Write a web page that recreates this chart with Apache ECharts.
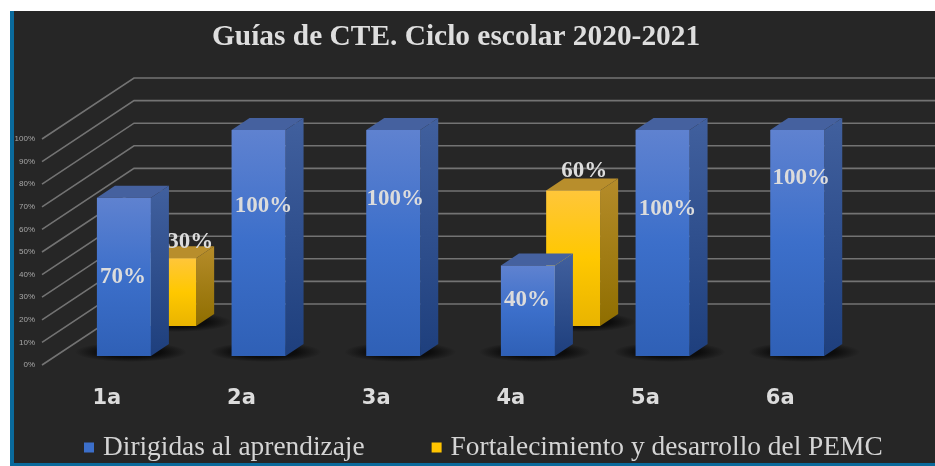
<!DOCTYPE html>
<html>
<head>
<meta charset="utf-8">
<style>html,body{margin:0;padding:0;background:#fff}#c{width:935px;height:466px}</style>
<script src="https://cdn.jsdelivr.net/npm/echarts@6/dist/echarts.min.js"></script>
</head>
<body>
<div id="c"></div>
<script>
const categories = ['1a', '2a', '3a', '4a', '5a', '6a'];
const dirigidas = [70, 100, 100, 40, 100, 100];
const fortalecimiento = [30, null, null, 60, null, null];
const yTicks = [0, 10, 20, 30, 40, 50, 60, 70, 80, 90, 100];
const titleText = 'Guías de CTE. Ciclo escolar 2020-2021';
const nameA = 'Dirigidas al aprendizaje';
const nameB = 'Fortalecimiento y desarrollo del PEMC';

// drawing constants for the simulated 3-D view
const WALL_DX = 92, WALL_DY = 61;      // floor depth, front edge to back wall
const BAR_W = 54, BAR_DX = 18, BAR_DY = 12;
const ROW_A = 9 / 61, ROW_B = 39 / 61; // depth of each row of bars
// hand-placed data label centres, as pixel shifts from the bar's front-face centre
const NUDGE_A = [[-1, 0], [5, -37], [2, -44], [-1, -11], [5, -34], [4, -65]];
const NUDGE_B = [[21, -50], null, null, [11, -87], null, null];

const grad = (stops) => ({
  type: 'linear', x: 0, y: 0, x2: 0, y2: 1,
  colorStops: stops.map((c, i) => ({ offset: i / (stops.length - 1), color: c }))
});
const BLUE = {
  front: grad(['#5f82d0', '#3c6fca', '#2f60b6']),
  side: grad(['#41609e', '#1e3f7d']),
  top: '#45619f'
};
const GOLD = {
  front: grad(['#ffc63a', '#ffc800', '#e9b400']),
  side: grad(['#b58c2a', '#8f6e00']),
  top: '#b88e2c'
};
const SHADOW = {
  type: 'radial', x: 0.5, y: 0.5, r: 0.5,
  colorStops: [
    { offset: 0, color: 'rgba(8,8,8,1)' },
    { offset: 0.55, color: 'rgba(8,8,8,0.85)' },
    { offset: 1, color: 'rgba(8,8,8,0)' }
  ]
};

function barRenderer(pal, row, nudges) {
  return function (params, api) {
    const i = api.value(0), v = api.value(1);
    const p0 = api.coord([i, 0]), p1 = api.coord([i, v]);
    const ox = WALL_DX * row, oy = -WALL_DY * row;
    const xl = p0[0] + ox - BAR_W / 2, xr = xl + BAR_W;
    const yb = p0[1] + oy, yt = p1[1] + oy;
    const n = nudges[i] || [0, 0];
    const poly = (pts, fill) => ({ type: 'polygon', shape: { points: pts }, style: { fill: fill } });
    return {
      type: 'group',
      children: [
        {
          type: 'circle', shape: { cx: 0, cy: 0, r: 1 },
          x: xl + BAR_W / 2 + 7, y: yb - 4, scaleX: 56, scaleY: 10,
          style: { fill: SHADOW }
        },
        poly([[xr, yt], [xr + BAR_DX, yt - BAR_DY], [xr + BAR_DX, yb - BAR_DY], [xr, yb]], pal.side),
        poly([[xl, yt], [xl + BAR_DX, yt - BAR_DY], [xr + BAR_DX, yt - BAR_DY], [xr, yt]], pal.top),
        { type: 'rect', shape: { x: xl, y: yt, width: BAR_W, height: yb - yt }, style: { fill: pal.front } },
        {
          type: 'text', z2: 10,
          style: {
            x: (xl + xr) / 2 + n[0], y: (yt + yb) / 2 + n[1],
            text: v + '%', fill: '#dcdcdc', align: 'center', verticalAlign: 'middle',
            font: 'bold 23px "Liberation Serif"'
          }
        }
      ]
    };
  };
}

function wallRenderer(params, api) {
  const v = api.value(0);
  const y = api.coord([0, v])[1];
  const x = params.coordSys.x - 1;
  return {
    type: 'polyline',
    shape: { points: [[x, y], [x + WALL_DX, y - WALL_DY], [api.getWidth(), y - WALL_DY]] },
    style: { stroke: '#737373', lineWidth: 1.6, fill: null }
  };
}

const toData = (arr) => arr.map((v, i) => v === null ? null : [i, v]).filter(Boolean);

const chart = echarts.init(document.getElementById('c'), null, { renderer: 'canvas' });
chart.setOption({
  animation: false,
  backgroundColor: '#ffffff',
  graphic: [
    { type: 'rect', z: -10, shape: { x: 10, y: 11, width: 925, height: 455 }, style: { fill: '#0a6a9c' } },
    { type: 'rect', z: -9, shape: { x: 14, y: 11, width: 921, height: 452 }, style: { fill: '#262626' } }
  ],
  title: {
    text: titleText, left: 207, top: 18,
    textStyle: { color: '#dedede', fontFamily: 'Liberation Serif', fontWeight: 'bold', fontSize: 29.4 }
  },
  legend: {
    left: 79, top: 429, data: [nameA, nameB], icon: 'rect',
    itemWidth: 10, itemHeight: 10, itemGap: 67,
    textStyle: { color: '#d4d4d4', fontFamily: 'Liberation Serif', fontSize: 27.4, padding: [0, 0, 0, 4] }
  },
  grid: { left: 43, top: 139, width: 808, height: 226 },
  xAxis: {
    type: 'category', data: categories,
    axisLine: { show: false }, axisTick: { show: false },
    axisLabel: { color: '#dcdcdc', fontFamily: 'DejaVu Sans', fontWeight: 'bold', fontSize: 21, margin: 23, padding: [0, 7, 0, 0] }
  },
  yAxis: {
    type: 'value', min: 0, max: 100, interval: 10,
    axisLine: { show: false }, axisTick: { show: false }, splitLine: { show: false },
    axisLabel: { color: '#a8a8a8', fontSize: 8, margin: 8, fontFamily: 'Liberation Sans', formatter: '{value}%' }
  },
  series: [
    {
      type: 'custom', name: 'wall', z: 1, silent: true,
      data: yTicks.map(v => [v]), encode: { y: 0 }, renderItem: wallRenderer
    },
    {
      type: 'custom', name: nameA, z: 4, silent: true,
      itemStyle: { color: '#3c6fca' },
      data: toData(dirigidas), encode: { x: 0, y: 1 }, renderItem: barRenderer(BLUE, ROW_A, NUDGE_A)
    },
    {
      type: 'custom', name: nameB, z: 3, silent: true,
      itemStyle: { color: '#ffc400' },
      data: toData(fortalecimiento), encode: { x: 0, y: 1 }, renderItem: barRenderer(GOLD, ROW_B, NUDGE_B)
    }
  ]
});
</script>
</body>
</html>
